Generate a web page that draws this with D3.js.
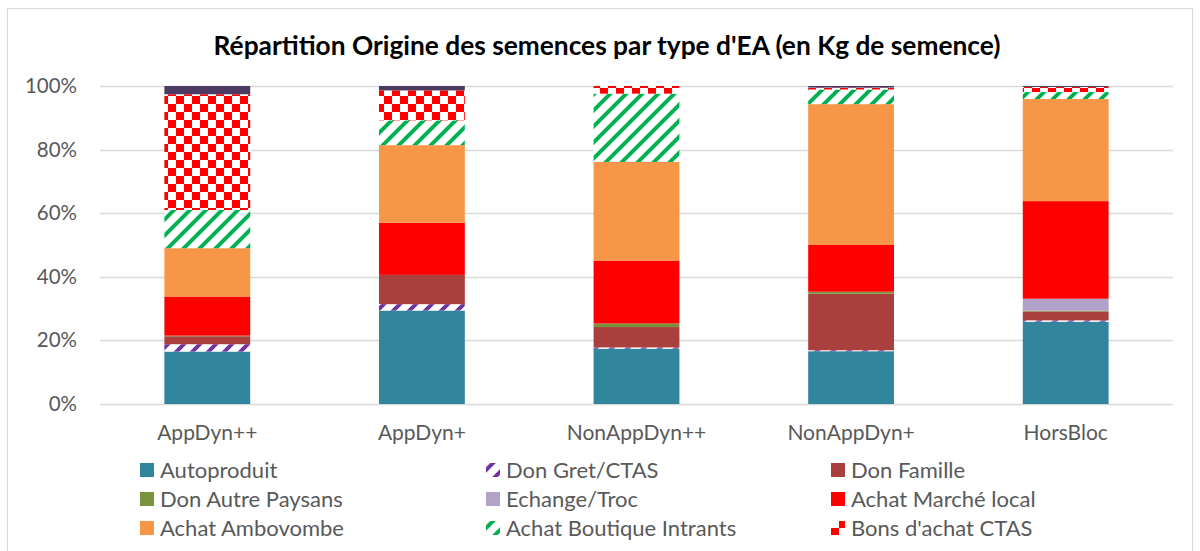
<!DOCTYPE html>
<html>
<head>
<meta charset="utf-8">
<script src="https://cdn.jsdelivr.net/npm/d3@7"></script>
<style>
  html, body { margin: 0; padding: 0; background: #fff; }
  svg { display: block; }
  text { font-family: Lato, "Open Sans", sans-serif; fill: #595959; }
</style>
</head>
<body>
<svg id="chart" width="1200" height="551"></svg>
<script>
// ---- data (percent of seed kg) ----
const categories = ["AppDyn++", "AppDyn+", "NonAppDyn++", "NonAppDyn+", "HorsBloc"];
const seriesNames = ["Autoproduit", "Don Gret/CTAS", "Don Famille", "Don Autre Paysans", "Echange/Troc",
  "Achat Marché local", "Achat Ambovombe", "Achat Boutique Intrants", "Bons d'achat CTAS", "Autre"];
const autoproduit      = [16.5, 29.4, 17.4, 16.6, 25.9];
const donGretCtas      = [2.3, 2.0, 0.4, 0.3, 0.4];
const donFamille       = [2.5, 9.2, 6.4, 17.8, 2.8];
const donAutrePaysans  = [0.2, 0.0, 1.1, 0.6, 0.2];
const echangeTroc      = [0.0, 0.0, 0.0, 0.0, 3.8];
const achatMarcheLocal = [12.3, 16.4, 19.8, 14.7, 30.7];
const achatAmbovombe   = [15.2, 24.4, 31.0, 44.3, 32.1];
const achatBoutique    = [12.0, 7.8, 21.5, 4.6, 2.2];
const bonsAchatCtas    = [36.4, 9.4, 2.4, 0.6, 1.6];
const autre            = [2.6, 1.4, 0.0, 0.5, 0.3];
const yTicks = [0, 0.2, 0.4, 0.6, 0.8, 1.0];
const legendOrder = ["Autoproduit", "Don Gret/CTAS", "Don Famille", "Don Autre Paysans", "Echange/Troc",
  "Achat Marché local", "Achat Ambovombe", "Achat Boutique Intrants", "Bons d'achat CTAS"];

const seriesValues = [autoproduit, donGretCtas, donFamille, donAutrePaysans, echangeTroc,
  achatMarcheLocal, achatAmbovombe, achatBoutique, bonsAchatCtas, autre];

const table = categories.map((c, i) => {
  const row = { cat: c };
  seriesNames.forEach((s, j) => row[s] = seriesValues[j][i] / 100);
  return row;
});

const svg = d3.select("#chart");
const defs = svg.append("defs");

// patterns
function stripePattern(id, color) {
  const p = defs.append("pattern").attr("id", id).attr("patternUnits", "userSpaceOnUse")
    .attr("width", 16).attr("height", 16);
  p.append("rect").attr("width", 16).attr("height", 16).attr("fill", "#fff");
  ["M-4,4L4,-4", "M0,16L16,0", "M12,20L20,12"].forEach(d =>
    p.append("path").attr("d", d).attr("stroke", color).attr("stroke-width", 4));
}
stripePattern("pGret", "#7030A0");
stripePattern("pBoutique", "#00B050");
const chk = defs.append("pattern").attr("id", "pBons").attr("patternUnits", "userSpaceOnUse")
  .attr("width", 16).attr("height", 16);
chk.append("rect").attr("width", 16).attr("height", 16).attr("fill", "#fff");
chk.append("rect").attr("width", 8).attr("height", 8).attr("fill", "#FF0000");
chk.append("rect").attr("x", 8).attr("y", 8).attr("width", 8).attr("height", 8).attr("fill", "#FF0000");

const fills = d3.scaleOrdinal().domain(seriesNames).range([
  "#31859C", "url(#pGret)", "#A9403D", "#77933C", "#B3A2C7",
  "#FF0000", "#F79646", "url(#pBoutique)", "url(#pBons)", "#4B3B63"]);

// chart border
svg.append("rect").attr("x", 7.5).attr("y", 8.5).attr("width", 1185).attr("height", 560)
  .attr("fill", "none").attr("stroke", "#D9D9D9");

// title
svg.append("text").attr("x", 607).attr("y", 55).attr("text-anchor", "middle")
  .style("font-weight", "bold").style("font-size", "26.3px").style("fill", "#000")
  .text("Répartition Origine des semences par type d'EA (en Kg de semence)");

const x = d3.scaleBand().domain(categories).range([100, 1173]).paddingInner(0.6).paddingOuter(0.3);
const y = d3.scaleLinear().domain([0, 1]).range([404, 86]);

// gridlines
svg.append("g").selectAll("line").data(yTicks).join("line")
  .attr("x1", 100).attr("x2", 1173)
  .attr("y1", d => Math.round(y(d)) + 0.5).attr("y2", d => Math.round(y(d)) + 0.5)
  .attr("stroke", "#D9D9D9").attr("stroke-width", 1.3);

// y axis labels
const yAxis = d3.axisLeft(y).tickValues(yTicks).tickFormat(d3.format(".0%")).tickSize(0).tickPadding(0);
const gy = svg.append("g").attr("transform", "translate(77,0)").call(yAxis);
gy.select(".domain").remove();
gy.selectAll("text").style("font-size", "20.5px").style("fill", "#595959").style("font-family", "Lato, sans-serif");

// bars
const stack = d3.stack().keys(seriesNames);
const stacked = stack(table);
svg.append("g").selectAll("g").data(stacked).join("g")
  .attr("fill", d => fills(d.key))
  .selectAll("rect").data(d => d).join("rect")
  .attr("x", d => x(d.data.cat))
  .attr("width", x.bandwidth())
  .attr("y", d => y(d[1]))
  .attr("height", d => Math.max(0, y(d[0]) - y(d[1])));

// x axis labels
const xAxis = d3.axisBottom(x).tickSize(0).tickPadding(0);
const gx = svg.append("g").attr("transform", "translate(0,425)").call(xAxis);
gx.select(".domain").remove();
gx.selectAll("text").attr("dy", "0.71em").style("font-size", "21px").style("fill", "#595959").style("font-family", "Lato, sans-serif");

// legend
const colX = [140, 486, 831];
const rowY = [470, 499, 528];
const lg = svg.append("g").selectAll("g").data(legendOrder).join("g")
  .attr("transform", (d, i) => `translate(${colX[i % 3]},${rowY[Math.floor(i / 3)]})`);
lg.append("rect").attr("x", 0).attr("y", -7).attr("width", 14).attr("height", 14).attr("fill", d => fills(d));
lg.append("text").attr("x", 20).attr("y", 0).attr("dy", "0.35em").style("font-size", "22px").text(d => d);
</script>
</body>
</html>
